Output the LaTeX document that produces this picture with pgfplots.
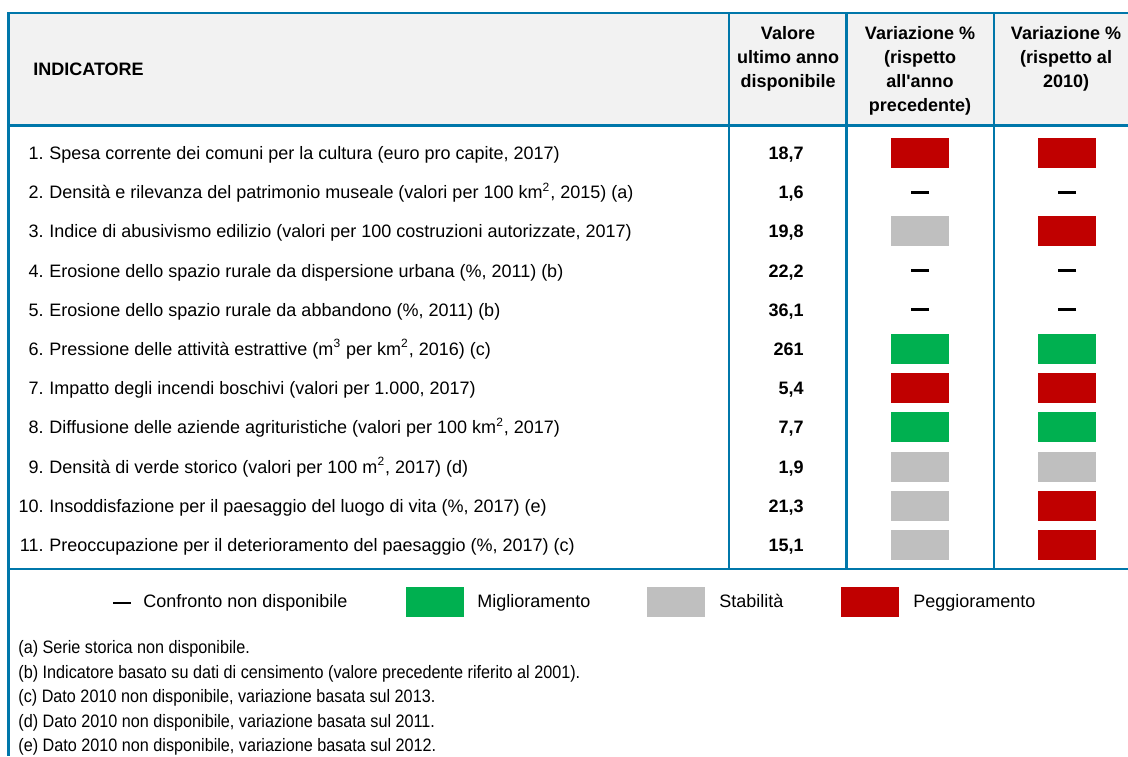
\documentclass[border=0pt]{standalone}
\usepackage{pgfplots}
\pgfplotsset{compat=1.18}
\usepackage{pgfplotstable}
\usepackage{fontspec}
\setmainfont{Liberation Sans}[Ligatures=TeXOff]
\newfontfamily\narrowfont[FakeStretch=0.9]{Liberation Sans}

\definecolor{istatblue}{RGB}{0,119,170}
\definecolor{hdrgray}{RGB}{242,242,242}
\definecolor{migl}{RGB}{0,176,80}
\definecolor{stab}{RGB}{191,191,191}
\definecolor{pegg}{RGB}{192,0,0}

% coloured cell used for the status of each indicator (58 x 30 px)
\pgfdeclareplotmark{cell}{%
  \pgfpathrectangle{\pgfqpoint{-14.5pt}{-7.5pt}}{\pgfqpoint{29pt}{15pt}}%
  \pgfusepathqfill}

% y = row centre (px from top); M miglioramento, S stabilita, P peggioramento, N non disponibile
\pgfplotstableread{
y     prev  base  val
153.0 P     P     18,7
192.2 N     N     1,6
231.4 S     P     19,8
270.6 N     N     22,2
309.8 N     N     36,1
349.0 M     M     261
388.2 P     P     5,4
427.4 M     M     7,7
466.6 S     S     1,9
505.8 S     P     21,3
545.0 S     P     15,1
}\indicatori

\pgfplotstableread{
x     y     cls
121.5 603   N
435   602   M
676   602   S
870   602   P
}\legenda

\tikzset{
  tl/.style={istatblue, line width=1.2pt},
  txt/.style={inner sep=0pt, font=\fontsize{9}{11}\selectfont},
  hdr/.style={inner sep=0pt, anchor=base, font=\fontsize{9}{11}\selectfont\bfseries},
  note/.style={inner sep=0pt, anchor=base west, font=\fontsize{9}{11}\selectfont\narrowfont},
}
\pgfplotsset{
  status/.style={scatter, only marks, scatter src=explicit symbolic,
    scatter/classes={
      M={mark=cell, migl},
      S={mark=cell, stab},
      P={mark=cell, pegg},
      N={mark=-, mark size=4.5pt, black, line width=1.35pt}}},
}

\newcommand{\riga}[3]{%
  \node[txt, anchor=base east] at (axis cs:44,#1) {#2.};
  \node[txt, anchor=base west] at (axis cs:49,#1) {#3};}

\begin{document}
\begin{tikzpicture}
\begin{axis}[
  scale only axis, width=564pt, height=378pt,
  xmin=0, xmax=1128, ymin=0, ymax=756, y dir=reverse,
  hide axis, clip=false,
]
  % header background
  \fill[hdrgray] (axis cs:8,13) rectangle (axis cs:1128,125);

  % status cells
  \addplot[status] table[x expr=920, y=y, meta=prev] {\indicatori};
  \addplot[status] table[x expr=1067, y=y, meta=base] {\indicatori};
  \addplot[status] table[x=x, y=y, meta=cls] {\legenda};

  % values
  \addplot[draw=none, mark=none, nodes near coords, point meta=explicit symbolic,
    every node near coord/.append style={anchor=base east, inner sep=0pt,
      yshift=-3.25pt, font=\fontsize{9}{11}\selectfont\bfseries}]
    table[x expr=804, y=y, meta=val] {\indicatori};

  % grid lines
  \draw[tl] (axis cs:8,13) -- (axis cs:1128,13);
  \draw[tl] (axis cs:8,125.5) -- (axis cs:1128,125.5);
  \draw[tl] (axis cs:8,569) -- (axis cs:1128,569);
  \draw[tl] (axis cs:8.3,12.4) -- (axis cs:8.3,756);
  \draw[tl] (axis cs:728.7,13) -- (axis cs:728.7,569);
  \draw[tl] (axis cs:846.3,13) -- (axis cs:846.3,569);
  \draw[tl] (axis cs:993.7,13) -- (axis cs:993.7,569);

  % header
  \node[hdr, anchor=base west] at (axis cs:33,75.5) {INDICATORE};
  \node[hdr] at (axis cs:788,39.5) {Valore};
  \node[hdr] at (axis cs:788,63.5) {ultimo anno};
  \node[hdr] at (axis cs:788,87.5) {disponibile};
  \node[hdr] at (axis cs:920,39.5) {Variazione \%};
  \node[hdr] at (axis cs:920,63.5) {(rispetto};
  \node[hdr] at (axis cs:920,87.5) {all'anno};
  \node[hdr] at (axis cs:920,111.5) {precedente)};
  \node[hdr] at (axis cs:1066,39.5) {Variazione \%};
  \node[hdr] at (axis cs:1066,63.5) {(rispetto al};
  \node[hdr] at (axis cs:1066,87.5) {2010)};

  % indicators
  \riga{159.5}{1}{Spesa corrente dei comuni per la cultura (euro pro capite, 2017)}
  \riga{198.7}{2}{Densità e rilevanza del patrimonio museale (valori per 100 km\textsuperscript{2}, 2015) (a)}
  \riga{237.9}{3}{Indice di abusivismo edilizio (valori per 100 costruzioni autorizzate, 2017)}
  \riga{277.1}{4}{Erosione dello spazio rurale da dispersione urbana (\%, 2011) (b)}
  \riga{316.3}{5}{Erosione dello spazio rurale da abbandono (\%, 2011) (b)}
  \riga{355.5}{6}{Pressione delle attività estrattive (m\textsuperscript{3} per km\textsuperscript{2}, 2016) (c)}
  \riga{394.7}{7}{Impatto degli incendi boschivi (valori per 1.000, 2017)}
  \riga{433.9}{8}{Diffusione delle aziende agrituristiche (valori per 100 km\textsuperscript{2}, 2017)}
  \riga{473.1}{9}{Densità di verde storico (valori per 100 m\textsuperscript{2}, 2017) (d)}
  \riga{512.3}{10}{Insoddisfazione per il paesaggio del luogo di vita (\%, 2017) (e)}
  \riga{551.5}{11}{Preoccupazione per il deterioramento del paesaggio (\%, 2017) (c)}

  % legend
  \node[txt, anchor=base west] at (axis cs:143,607.5) {Confronto non disponibile};
  \node[txt, anchor=base west] at (axis cs:477,607.5) {Miglioramento};
  \node[txt, anchor=base west] at (axis cs:719,607.5) {Stabilità};
  \node[txt, anchor=base west] at (axis cs:913,607.5) {Peggioramento};

  % notes
  \node[note] at (axis cs:18,653.5) {(a) Serie storica non disponibile.};
  \node[note] at (axis cs:18,678) {(b) Indicatore basato su dati di censimento (valore precedente riferito al 2001).};
  \node[note] at (axis cs:18,702.5) {(c) Dato 2010 non disponibile, variazione basata sul 2013.};
  \node[note] at (axis cs:18,727) {(d) Dato 2010 non disponibile, variazione basata sul 2011.};
  \node[note] at (axis cs:18,751.5) {(e) Dato 2010 non disponibile, variazione basata sul 2012.};
\end{axis}
\pgfresetboundingbox
\useasboundingbox (current axis.south west) rectangle (current axis.north east);
\end{tikzpicture}
\end{document}
